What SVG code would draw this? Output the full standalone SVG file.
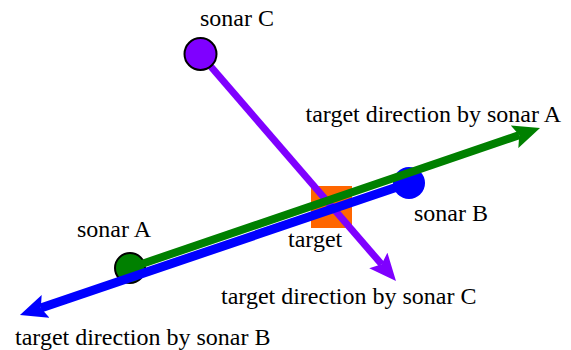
<svg xmlns="http://www.w3.org/2000/svg" width="571" height="350" viewBox="0 0 571 350">
<style>
text { font-family: "Liberation Serif", "Times New Roman", serif; font-size: 24px; fill: #000; }
.sonar { stroke: #000; stroke-width: 2; }
.conn { fill: none; stroke-linecap: butt; }
</style>
<defs>
<marker id="hg" markerUnits="userSpaceOnUse" markerWidth="27" markerHeight="24" viewBox="0 0 27 24" refX="5" refY="12" orient="auto"><path d="M0,0 L27,12 L0,24 L5,12 Z" fill="#008000"/></marker>
<marker id="hb" markerUnits="userSpaceOnUse" markerWidth="27" markerHeight="24" viewBox="0 0 27 24" refX="5" refY="12" orient="auto"><path d="M0,0 L27,12 L0,24 L5,12 Z" fill="#0000ff"/></marker>
<marker id="hp" markerUnits="userSpaceOnUse" markerWidth="27" markerHeight="24" viewBox="0 0 27 24" refX="5" refY="12" orient="auto"><path d="M0,0 L27,12 L0,24 L5,12 Z" fill="#7f00ff"/></marker>
</defs>
<g id="target">
<rect x="311" y="186" width="41" height="42" fill="#ff6600"/>
<text x="288" y="247">target</text>
</g>
<g id="connectors-c">
<line class="conn" x1="200" y1="54" x2="381.6" y2="264.3" stroke="#7f00ff" stroke-width="7" marker-end="url(#hp)"/>
</g>
<g id="sonarC">
<circle class="sonar" cx="200.5" cy="54" r="16" fill="#7f00ff"/>
<text x="200" y="26">sonar C</text>
</g>
<g id="sonarA">
<circle class="sonar" cx="130" cy="268" r="15" fill="#008000"/>
<text x="77" y="237">sonar A</text>
</g>
<g id="sonarB">
<circle cx="409" cy="183" r="16" fill="#0000ff"/>
<text x="414" y="221">sonar B</text>
</g>
<g id="connectors">
<line class="conn" x1="130" y1="268" x2="519.2" y2="135.1" stroke="#008000" stroke-width="8" marker-end="url(#hg)"/>
<line class="conn" x1="409" y1="183" x2="40.8" y2="308.0" stroke="#0000ff" stroke-width="9" marker-end="url(#hb)"/>
</g>
<g id="labels">
<text x="305.5" y="122">target direction by sonar A</text>
<text x="221" y="304">target direction by sonar C</text>
<text x="15" y="345">target direction by sonar B</text>
</g>
</svg>
